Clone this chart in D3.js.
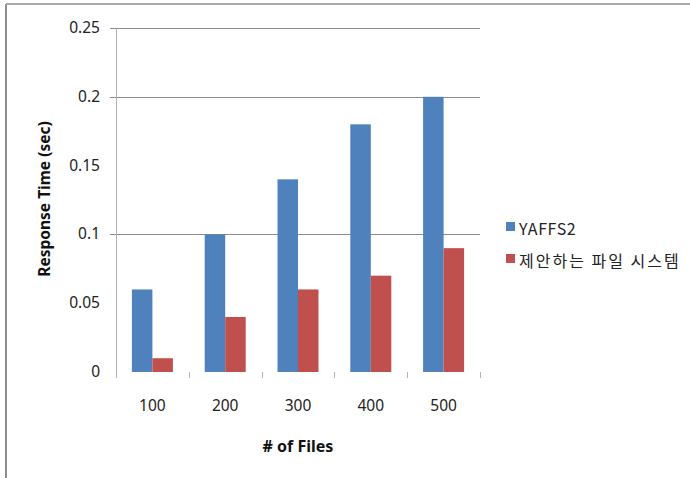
<!DOCTYPE html>
<html><head><meta charset="utf-8">
<script src="https://cdn.jsdelivr.net/npm/d3@7"></script>
<style>
html,body{margin:0;padding:0;background:#fff;}
svg{display:block;}
</style></head>
<body>
<script>
const categories = ["100", "200", "300", "400", "500"];
const seriesNames = ["YAFFS2", "제안하는 파일 시스템"];
const yaffs2 = [0.06, 0.10, 0.14, 0.18, 0.20];
const proposed = [0.01, 0.04, 0.06, 0.07, 0.09];
const yTicks = [0, 0.05, 0.1, 0.15, 0.2, 0.25];
const yTickLabels = ["0", "0.05", "0.1", "0.15", "0.2", "0.25"];
const gridValues = [0.1, 0.2, 0.25];
const colors = ["#4F81BD", "#C0504D"];

(function () {
const W = 690, H = 478;
const svg = d3.select("body").append("svg").attr("width", W).attr("height", H);

// outer frame (left and top edges)
svg.append("line").attr("x1", 6).attr("x2", 6).attr("y1", 4).attr("y2", H).attr("stroke", "#8e8e8e").attr("stroke-width", 2);
svg.append("line").attr("x1", 6).attr("x2", W).attr("y1", 4).attr("y2", 4).attr("stroke", "#a8a8a8").attr("stroke-width", 2);

const pLeft = 116, pRight = 480, pTop = 28, pBottom = 372;
const x = d3.scaleBand().domain(categories).range([pLeft, pRight]).paddingInner(0).paddingOuter(0);
const y = d3.scaleLinear().domain([0, 0.25]).range([pBottom, pTop]);

// gridlines
svg.append("g").selectAll("line").data(gridValues).join("line")
  .attr("x1", pLeft - 6).attr("x2", pRight)
  .attr("y1", d => Math.round(y(d)) + 0.5).attr("y2", d => Math.round(y(d)) + 0.5)
  .attr("stroke", "#8c8c8c").attr("stroke-width", 1);

// y axis line
svg.append("line").attr("x1", pLeft + 0.5).attr("x2", pLeft + 0.5).attr("y1", pTop).attr("y2", pBottom + 6)
  .attr("stroke", "#b0b0b0").attr("stroke-width", 1);

// y tick labels
svg.append("g").selectAll("text").data(yTicks).join("text")
  .attr("x", 100).attr("y", d => y(d) + 5)
  .attr("text-anchor", "end")
  .attr("font-family", "'Noto Sans', sans-serif").attr("font-size", 15.5)
  .attr("fill", "#222")
  .text((d, i) => yTickLabels[i]);

// x category boundary ticks
const boundaries = categories.map(c => x(c) + x.bandwidth());
svg.append("g").selectAll("line").data(boundaries).join("line")
  .attr("x1", d => Math.round(d) + 0.5).attr("x2", d => Math.round(d) + 0.5)
  .attr("y1", pBottom).attr("y2", pBottom + 6)
  .attr("stroke", "#b4b4b4").attr("stroke-width", 1);

// bars
const barW = 20.5;
const groupOffset = (x.bandwidth() - 2 * barW) / 2;
const series = [yaffs2, proposed];
series.forEach((vals, si) => {
  svg.append("g").selectAll("rect").data(vals).join("rect")
    .attr("x", (d, i) => x(categories[i]) + groupOffset + si * barW)
    .attr("y", d => y(d))
    .attr("width", barW)
    .attr("height", d => y(0) - y(d))
    .attr("fill", colors[si]);
});

// x labels
svg.append("g").selectAll("text").data(categories).join("text")
  .attr("x", d => x(d) + x.bandwidth() / 2).attr("y", 411)
  .attr("text-anchor", "middle")
  .attr("font-family", "'Noto Sans', sans-serif").attr("font-size", 15.5)
  .attr("fill", "#222")
  .text(d => d);

// axis titles
svg.append("text").attr("x", (pLeft + pRight) / 2).attr("y", 452)
  .attr("text-anchor", "middle")
  .attr("font-family", "'Noto Sans', sans-serif").attr("font-weight", "bold").attr("font-size", 16)
  .attr("fill", "#111")
  .text("# of Files");
svg.append("text").attr("transform", "translate(50,199) rotate(-90)")
  .attr("text-anchor", "middle")
  .attr("font-family", "'Noto Sans', sans-serif").attr("font-weight", "bold").attr("font-size", 15.5)
  .attr("fill", "#111")
  .text("Response Time (sec)");

// legend
const legend = svg.append("g");
const legendY = [222, 254];
const legendSpacing = [0.6, 2];
seriesNames.forEach((name, i) => {
  legend.append("rect").attr("x", 506).attr("y", legendY[i]).attr("width", 9).attr("height", 9).attr("fill", colors[i]);
  legend.append("text").attr("x", 519).attr("y", legendY[i] + 13)
    .attr("font-family", "'Noto Sans CJK KR', 'Noto Sans', sans-serif").attr("font-size", 16)
    .attr("letter-spacing", legendSpacing[i])
    .attr("fill", "#222")
    .text(name);
});
})();
</script>
</body></html>
